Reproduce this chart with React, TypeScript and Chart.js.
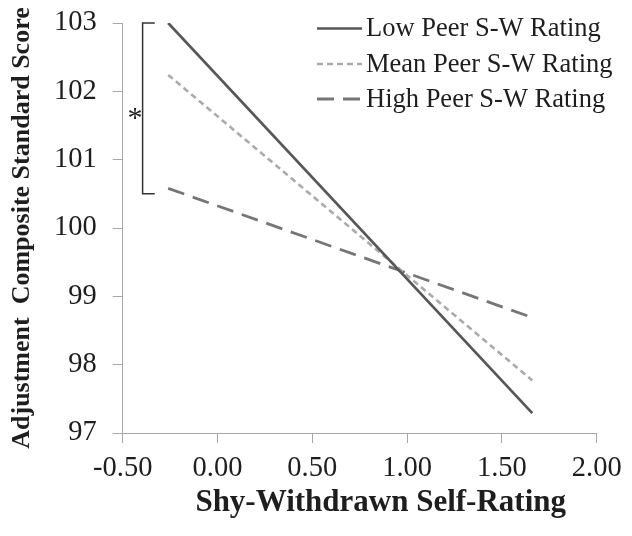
import React, { useEffect, useRef } from "react";
import { Chart, registerables } from "chart.js";

Chart.register(...registerables);

// ---- data ----
const xValues = [-0.26, 1.66];
const lowPeer = [103.0, 97.29];
const meanPeer = [102.24, 97.77];
const highPeer = [100.58, 98.69];
const seriesLabels = ["Low Peer S-W Rating", "Mean Peer S-W Rating", "High Peer S-W Rating"];
const xTicks = [-0.5, 0, 0.5, 1, 1.5, 2];
const yTicks = [97, 98, 99, 100, 101, 102, 103];
const xTitle = "Shy-Withdrawn Self-Rating";
const yTitle = "Adjustment  Composite Standard Score";
// significance bracket (data coordinates)
const bracketX = [-0.395, -0.331];
const bracketY = [100.5, 103];
const markText = "*";
const markPos = [-0.435, 101.68];

const SERIF = "'Liberation Serif', 'Times New Roman', serif";
const TEXT = "#1e1e1e";
const AXIS = "#a8a8a8";

const overlayPlugin = {
  id: "overlay",
  afterDatasetsDraw(chart: any) {
    const { ctx, chartArea, scales } = chart;
    const xs = scales.x;
    const ys = scales.y;
    ctx.save();
    // bracket
    ctx.strokeStyle = "#333";
    ctx.lineWidth = 1.5;
    const bx0 = xs.getPixelForValue(bracketX[0]);
    const bx1 = xs.getPixelForValue(bracketX[1]);
    const byTop = ys.getPixelForValue(bracketY[1]);
    const byBot = ys.getPixelForValue(bracketY[0]);
    ctx.beginPath();
    ctx.moveTo(bx1, byTop);
    ctx.lineTo(bx0, byTop);
    ctx.lineTo(bx0, byBot);
    ctx.lineTo(bx1, byBot);
    ctx.stroke();
    // asterisk
    const af = 30;
    ctx.fillStyle = TEXT;
    ctx.font = `${af}px ${SERIF}`;
    ctx.textAlign = "center";
    ctx.textBaseline = "alphabetic";
    ctx.fillText(markText, xs.getPixelForValue(markPos[0]), ys.getPixelForValue(markPos[1]) + 0.46 * af);

    // legend
    const rowY = [20.5, 56, 91];
    const lineX0 = 309;
    const lineX1 = 354;
    const textX = 358;
    chart.data.datasets.forEach((ds: any, i: number) => {
      ctx.save();
      ctx.strokeStyle = ds.borderColor;
      ctx.lineWidth = ds.borderWidth;
      ctx.setLineDash(ds.borderDash || []);
      ctx.beginPath();
      ctx.moveTo(lineX0, rowY[i]);
      ctx.lineTo(lineX1, rowY[i]);
      ctx.stroke();
      ctx.restore();
      ctx.fillStyle = TEXT;
      ctx.font = `26.5px ${SERIF}`;
      ctx.textAlign = "left";
      ctx.textBaseline = "middle";
      ctx.fillText(ds.label, textX, rowY[i] + 1);
    });

    // x-axis title
    ctx.fillStyle = TEXT;
    ctx.font = `bold 31px ${SERIF}`;
    ctx.textAlign = "center";
    ctx.textBaseline = "middle";
    ctx.fillText(xTitle, (chartArea.left + chartArea.right) / 2 + 21, 495);
    ctx.restore();
  },
};

export default function App() {
  const canvasRef = useRef<HTMLCanvasElement | null>(null);

  useEffect(() => {
    if (!canvasRef.current) return;
    const mk = (vals: number[]) => xValues.map((x, i) => ({ x, y: vals[i] }));
    const chart = new Chart(canvasRef.current, {
      type: "line",
      data: {
        datasets: [
          {
            label: seriesLabels[0],
            data: mk(lowPeer),
            borderColor: "#575757",
            borderWidth: 2.7,
            borderDash: [],
            pointRadius: 0,
            fill: false,
          },
          {
            label: seriesLabels[1],
            data: mk(meanPeer),
            borderColor: "#ababab",
            borderWidth: 2.6,
            borderDash: [6, 4],
            pointRadius: 0,
            fill: false,
          },
          {
            label: seriesLabels[2],
            data: mk(highPeer),
            borderColor: "#767676",
            borderWidth: 2.8,
            borderDash: [17, 9],
            pointRadius: 0,
            fill: false,
          },
        ],
      },
      options: {
        animation: false,
        responsive: false,
        layout: { padding: { left: 0, top: 15, right: 27.3, bottom: 0 } },
        plugins: {
          legend: { display: false },
          tooltip: { enabled: false },
        },
        scales: {
          x: {
            type: "linear",
            min: -0.5,
            max: 2,
            afterBuildTicks: (s: any) => {
              s.ticks = xTicks.map((v) => ({ value: v }));
            },
            afterFit: (s: any) => {
              s.height = 95;
              s.paddingLeft = 0;
              s.paddingRight = 0;
            },
            ticks: {
              callback: (v: any) => Number(v).toFixed(2),
              font: { family: SERIF, size: 28.5, lineHeight: 1 },
              color: TEXT,
              padding: 11,
              maxRotation: 0,
              autoSkip: false,
            },
            grid: { drawOnChartArea: false, drawTicks: true, tickLength: 10, color: AXIS, lineWidth: 1 },
            border: { color: AXIS, width: 1 },
          },
          y: {
            type: "linear",
            min: 97,
            max: 103,
            afterBuildTicks: (s: any) => {
              s.ticks = yTicks.map((v) => ({ value: v }));
            },
            afterFit: (s: any) => {
              s.width = 114.7;
              s.paddingTop = 0;
              s.paddingBottom = 0;
            },
            ticks: {
              callback: (v: any) => String(v),
              font: { family: SERIF, size: 28.5, lineHeight: 1 },
              color: TEXT,
              padding: 16,
              autoSkip: false,
            },
            grid: { drawOnChartArea: false, drawTicks: true, tickLength: 10, color: AXIS, lineWidth: 1 },
            border: { color: AXIS, width: 1 },
            title: {
              display: true,
              text: yTitle,
              color: TEXT,
              font: { family: SERIF, size: 26, weight: "bold", lineHeight: 1 },
              padding: { top: 1, bottom: 0 },
            },
          },
        },
      },
      plugins: [overlayPlugin],
    } as any);
    return () => chart.destroy();
  }, []);

  return (
    <div style={{ width: 616, height: 520 }}>
      <canvas ref={canvasRef} width={616} height={520} style={{ display: "block" }} />
    </div>
  );
}
